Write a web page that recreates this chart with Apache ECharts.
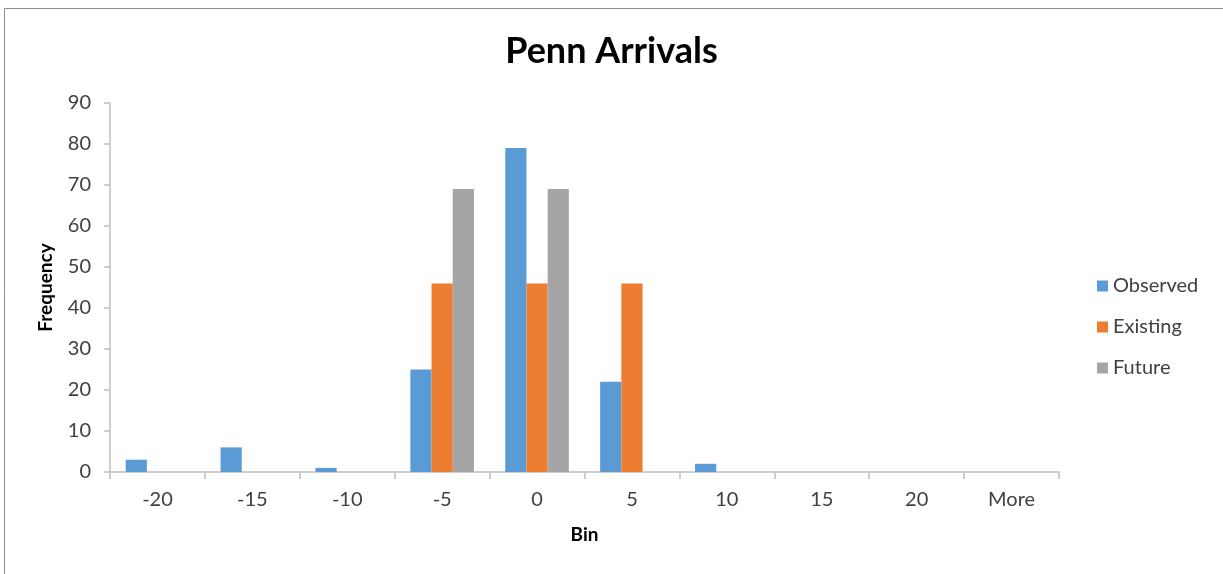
<!DOCTYPE html>
<html>
<head>
<meta charset="utf-8">
<script src="https://cdn.jsdelivr.net/npm/echarts@6/dist/echarts.min.js"></script>
<style>
  html, body { margin: 0; padding: 0; background: #fff; }
  #chart { width: 1223px; height: 574px; }
</style>
</head>
<body>
<div id="chart"></div>
<script>
// Histogram bins and frequency counts
const bins = ['-20', '-15', '-10', '-5', '0', '5', '10', '15', '20', 'More'];
const observed = [3, 6, 1, 25, 79, 22, 2, 0, 0, 0];
const existing = [0, 0, 0, 46, 46, 46, 0, 0, 0, 0];
const future   = [0, 0, 0, 69, 69, 0, 0, 0, 0, 0];
const yTicks = { min: 0, max: 90, interval: 10 };

const FONT = 'Lato, "Open Sans", sans-serif';
const AXIS_COLOR = '#bfbfbf';
const TEXT_COLOR = '#404040';

const chart = echarts.init(document.getElementById('chart'), null, { renderer: 'canvas' });

function barSeries(name, data, color) {
  return {
    name: name,
    type: 'bar',
    data: data,
    barGap: '0%',
    barCategoryGap: '33%',
    itemStyle: { color: color },
    emphasis: { disabled: true },
    animation: false
  };
}

chart.setOption({
  backgroundColor: '#ffffff',
  graphic: [{
    type: 'rect',
    silent: true,
    shape: { x: 4.5, y: 8.5, width: 1400, height: 800 },
    style: { fill: 'none', stroke: '#8c8c8c', lineWidth: 1 }
  }],
  title: {
    text: 'Penn Arrivals',
    left: 'center',
    top: 28,
    textStyle: { fontFamily: FONT, fontSize: 36, fontWeight: 'bold', color: '#000' }
  },
  legend: {
    orient: 'vertical',
    left: 1092,
    top: 271,
    itemWidth: 11,
    itemHeight: 11,
    itemGap: 21,
    icon: 'rect',
    textStyle: { fontFamily: FONT, fontSize: 20, color: TEXT_COLOR },
    data: ['Observed', 'Existing', 'Future']
  },
  grid: { left: 110, right: 164, top: 103, bottom: 102, containLabel: false },
  xAxis: {
    type: 'category',
    data: bins,
    name: 'Bin',
    nameLocation: 'middle',
    nameGap: 53,
    nameTextStyle: { fontFamily: FONT, fontSize: 19, fontWeight: 'bold', color: '#000' },
    axisLine: { lineStyle: { color: AXIS_COLOR, width: 1.5 } },
    axisTick: { show: true, length: 7, alignWithLabel: false, lineStyle: { color: AXIS_COLOR, width: 1.5 } },
    axisLabel: { fontFamily: FONT, fontSize: 20, color: TEXT_COLOR, margin: 18 },
    splitLine: { show: false }
  },
  yAxis: {
    type: 'value',
    min: yTicks.min,
    max: yTicks.max,
    interval: yTicks.interval,
    name: 'Frequency',
    nameLocation: 'middle',
    nameGap: 55,
    nameRotate: 90,
    nameTextStyle: { fontFamily: FONT, fontSize: 19, fontWeight: 'bold', color: '#000' },
    axisLine: { show: true, lineStyle: { color: AXIS_COLOR, width: 1.5 } },
    axisTick: { show: true, length: 6, lineStyle: { color: AXIS_COLOR, width: 1.5 } },
    axisLabel: { fontFamily: FONT, fontSize: 20, color: TEXT_COLOR, margin: 19 },
    splitLine: { show: false }
  },
  series: [
    barSeries('Observed', observed, '#5b9bd5'),
    barSeries('Existing', existing, '#ed7d31'),
    barSeries('Future', future, '#a5a5a5')
  ]
});
</script>
</body>
</html>
